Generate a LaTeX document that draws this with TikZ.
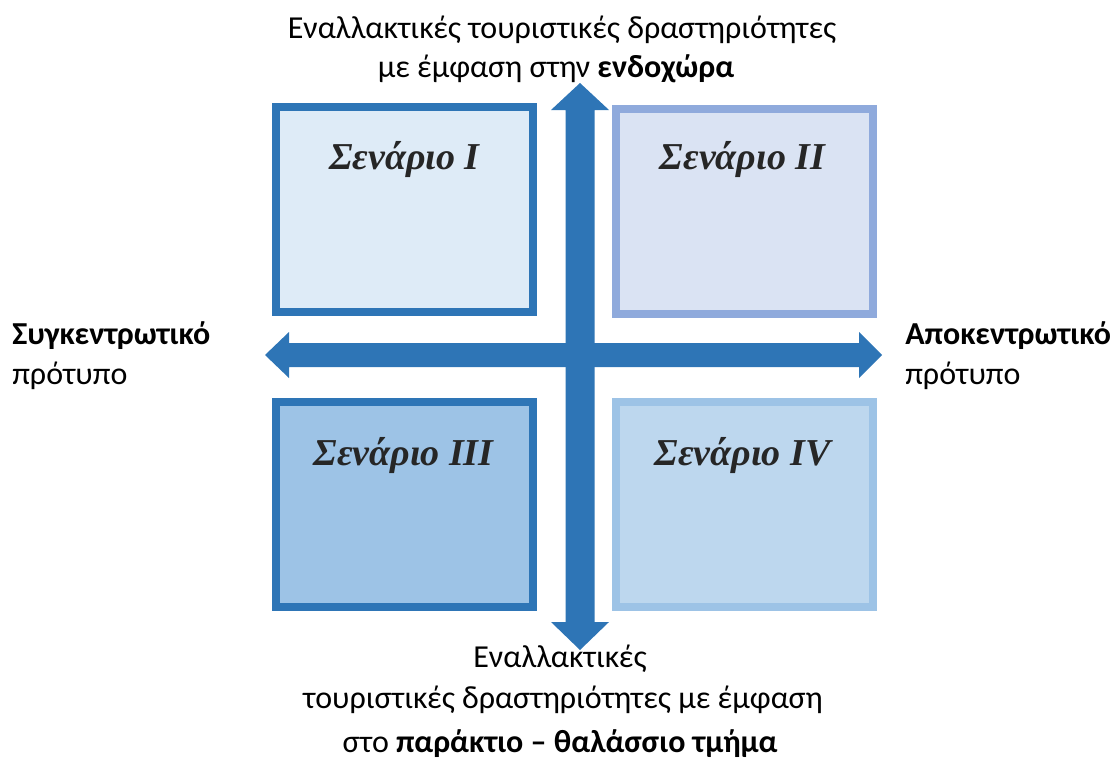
\documentclass[tikz,border=0pt]{standalone}
\usepackage{fontspec}
\setmainfont{Carlito}
\newfontfamily\scenfont{Liberation Serif}
\usetikzlibrary{positioning, calc}

\definecolor{axisblue}{HTML}{2E75B6}
\definecolor{softblue}{HTML}{8FAADC}
\definecolor{paleblue}{HTML}{9DC3E6}
\definecolor{fillone}{HTML}{DEEBF7}
\definecolor{filltwo}{HTML}{DAE3F3}
\definecolor{fillthree}{HTML}{9DC3E6}
\definecolor{fillfour}{HTML}{BDD7EE}

\tikzset{
	scenbox/.style={draw, line width=6pt, minimum width=192.75pt, minimum height=153.75pt, inner sep=0pt},
	scentitle/.style={anchor=base, font=\scenfont\bfseries\itshape\fontsize{28.5}{30}\selectfont, text=black!85},
	axislabel/.style={font=\fontsize{24}{28}\selectfont, inner sep=0pt},
}

\begin{document}
\begin{tikzpicture}[x=0.75pt, y=-0.75pt]
		\useasboundingbox (0,0) rectangle (1112,760);
		
		% Define scenario boxes
		\node[scenbox, draw=axisblue, fill=fillone] (s1) at (404.5,209.5) {};
		\node[scenbox, draw=softblue, fill=filltwo] (s2) at (744.5,211.5) {};
		\node[scenbox, draw=axisblue, fill=fillthree] (s3) at (404.5,504.5) {};
		\node[scenbox, draw=paleblue, fill=fillfour] (s4) at (744.5,504.5) {};
		
		\node[scentitle] (t1) at ($(s1.north)+(0,66)$) {Σενάριο I};
		\node[scentitle] (t2) at ($(s2.north)+(-2,64)$) {Σενάριο II};
		\node[scentitle] (t3) at ($(s3.north)+(-1,67)$) {Σενάριο III};
		\node[scentitle] (t4) at ($(s4.north)+(-2,67)$) {Σενάριο IV};
		
		% Draw the two axes
		\fill[axisblue] (265,355) -- (289,332) -- (289,343) -- (859,343) -- (859,332) -- (882,355)
			-- (859,378) -- (859,367) -- (289,367) -- (289,378) -- cycle;
		\fill[axisblue] (580,83) -- (609,110) -- (594.5,110) -- (594.5,622) -- (609,622) -- (580,650)
			-- (551,622) -- (565.5,622) -- (565.5,110) -- (551,110) -- cycle;
		
		% Axis labels
		\node[axislabel, anchor=base] (up1) at (562,38) {Εναλλακτικές τουριστικές δραστηριότητες};
		\node[axislabel, anchor=base] (up2) at (556,77) {με έμφαση στην \textbf{ενδοχώρα}};
		\node[axislabel, anchor=base west] (left1) at (12,344) {\textbf{Συγκεντρωτικό}};
		\node[axislabel, anchor=base west] (left2) at (12,384) {πρότυπο};
		\node[axislabel, anchor=base west] (right1) at (905,344) {\textbf{Αποκεντρωτικό}};
		\node[axislabel, anchor=base west] (right2) at (905,384) {πρότυπο};
		\node[axislabel, anchor=base] (down1) at (560,667) {Εναλλακτικές};
		\node[axislabel, anchor=base] (down2) at (563,708) {τουριστικές δραστηριότητες με έμφαση};
		\node[axislabel, anchor=base] (down3) at (560,752) {στο \textbf{παράκτιο – θαλάσσιο τμήμα}};
	\end{tikzpicture}
\end{document}
